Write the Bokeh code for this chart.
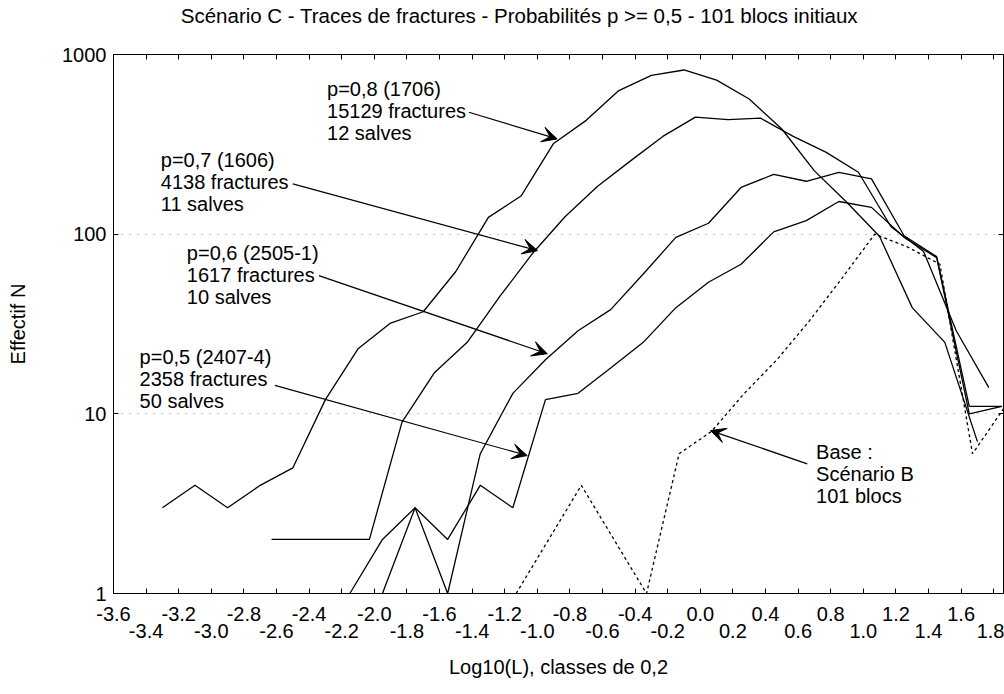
from bokeh.plotting import figure
from bokeh.models import (FixedTicker, LinearAxis, LogAxis, NumeralTickFormatter,
                          Arrow, VeeHead, ColumnDataSource, Range1d)
from bokeh.core.properties import value
from bokeh.embed import file_html
from bokeh.resources import INLINE

# ---------------- data ----------------
title_text = "Scénario C - Traces de fractures - Probabilités p >= 0,5 - 101 blocs initiaux"
title_x = -1.11          # x (data) where the title is centred
x_label = "Log10(L), classes de 0,2"
y_label = "Effectif N"

x_ticks_row1 = [-3.6, -3.2, -2.8, -2.4, -2.0, -1.6, -1.2, -0.8, -0.4, 0.0, 0.4, 0.8, 1.2, 1.6]
x_ticks_row2 = [-3.4, -3.0, -2.6, -2.2, -1.8, -1.4, -1.0, -0.6, -0.2, 0.2, 0.6, 1.0, 1.4, 1.8]
y_ticks = [1, 10, 100, 1000]
y_grid = [10, 100]

# p = 0,8 (1706)
x_p08 = [-3.3, -3.1, -2.9, -2.7, -2.5, -2.3, -2.1, -1.9, -1.7, -1.5, -1.3, -1.1, -0.9,
         -0.7, -0.5, -0.3, -0.1, 0.1, 0.3, 0.5, 0.7, 0.9, 1.1, 1.3, 1.5, 1.7]
n_p08 = [3, 4, 3, 4, 5, 12, 23, 32, 37, 62, 124, 163, 320,
         430, 630, 765, 820, 720, 565, 385, 225, 150, 97, 39, 25, 7]

# p = 0,7 (1606)
x_p07 = [-2.63, -2.43, -2.23, -2.03, -1.83, -1.63, -1.43, -1.23, -1.03, -0.83, -0.63, -0.43,
         -0.23, -0.03, 0.17, 0.37, 0.57, 0.77, 0.97, 1.17, 1.37, 1.57, 1.77]
n_p07 = [2, 2, 2, 2, 9, 17, 25, 45, 78, 125, 185, 255,
         350, 448, 434, 442, 350, 286, 221, 110, 80, 29, 14]

# p = 0,6 (2505-1)
x_p06 = [-2.15, -1.95, -1.75, -1.55, -1.35, -1.15, -0.95, -0.75, -0.55, -0.35, -0.15,
         0.05, 0.25, 0.45, 0.65, 0.85, 1.05, 1.25, 1.45, 1.65, 1.85]
n_p06 = [1, 2, 3, 1, 6, 13, 20, 29, 38, 60, 96,
         115, 182, 215, 197, 221, 203, 98, 75, 11, 11]

# p = 0,5 (2407-4)
x_p05 = [-1.95, -1.75, -1.55, -1.35, -1.15, -0.95, -0.75, -0.55, -0.35, -0.15,
         0.05, 0.25, 0.45, 0.65, 0.85, 1.05, 1.25, 1.45, 1.65, 1.85]
n_p05 = [1, 3, 2, 4, 3, 12, 13, 18, 25, 39,
         54, 68, 103, 119, 152, 141, 96, 74, 10, 11]

# Base : Scénario B (101 blocs)
x_base = [-1.13, -0.93, -0.73, -0.53, -0.33, -0.13, 0.07, 0.27, 0.47, 0.67, 0.87,
          1.07, 1.27, 1.47, 1.67, 1.87]
n_base = [1, 2, 4, 2, 1, 6, 8, 13, 20, 33, 57,
          100, 85, 68, 6, 11]

# annotations (text blocks anchored at their middle line, left edge)
ann_text = ["p=0,8 (1706)\n15129 fractures\n12 salves",
            "p=0,7 (1606)\n4138 fractures\n11 salves",
            "p=0,6 (2505-1)\n1617 fractures\n10 salves",
            "p=0,5 (2407-4)\n2358 fractures\n50 salves",
            "Base :\nScénario B\n101 blocs"]
ann_x = [-2.29, -3.31, -3.15, -3.44, 0.71]
ann_y = [487, 194, 58.9, 15.7, 4.64]

arr_x0 = [-1.42, -2.50, -2.34, -2.61, 0.656]
arr_y0 = [477, 190.5, 58.8, 14.4, 5.27]
arr_x1 = [-0.878, -0.999, -0.939, -1.062, 0.063]
arr_y1 = [339, 81, 21.6, 5.86, 8.07]

# ---------------- figure ----------------
FONT = "Liberation Sans"
FS = "20px"

p = figure(width=1004, height=694, output_backend="svg", toolbar_location=None,
           x_range=Range1d(-3.6, 1.86), y_range=Range1d(1, 1000), y_axis_type="log",
           min_border_left=113, min_border_top=54, min_border_right=1, min_border_bottom=101)
p.background_fill_color = "white"
p.border_fill_color = "white"
p.outline_line_color = "black"
p.outline_line_width = 1

# bottom axis (row 1 labels, all ticks)
xa = p.xaxis[0]
xa.ticker = FixedTicker(ticks=x_ticks_row1, minor_ticks=x_ticks_row2)
xa.formatter = NumeralTickFormatter(format="0.0")
xa.major_tick_in = 5
xa.major_tick_out = 0
xa.minor_tick_in = 5
xa.minor_tick_out = 0
xa.major_label_standoff = 13
xa.major_label_text_font = FONT
xa.major_label_text_font_size = FS
xa.major_label_text_color = "black"
xa.axis_line_color = "black"

# second (staggered) row of labels + axis title
xa2 = LinearAxis(ticker=FixedTicker(ticks=x_ticks_row2),
                 formatter=NumeralTickFormatter(format="0.0"),
                 axis_line_color=None, major_tick_line_color=None, minor_tick_line_color=None,
                 major_tick_in=0, major_tick_out=0, minor_tick_in=0, minor_tick_out=0,
                 major_label_standoff=0, major_label_text_font=FONT,
                 major_label_text_font_size=FS, major_label_text_color="black",
                 axis_label=x_label, axis_label_standoff=15, axis_label_text_font=FONT,
                 axis_label_text_font_size=FS, axis_label_text_font_style="normal",
                 axis_label_text_color="black")
p.add_layout(xa2, "below")

# top axis: inward ticks only
xt = LinearAxis(ticker=FixedTicker(ticks=[], minor_ticks=x_ticks_row1 + x_ticks_row2),
                major_tick_in=0, major_tick_out=0,
                minor_tick_in=5, minor_tick_out=0, minor_tick_line_color="black",
                major_label_standoff=0, axis_line_color="black")
p.add_layout(xt, "above")

# chart title, drawn as the single label of an outer top axis (lets it sit at the very top)
xtitle = LinearAxis(ticker=FixedTicker(ticks=[title_x]),
                    major_label_overrides={title_x: title_text},
                    axis_line_color=None, major_tick_line_color=None, minor_tick_line_color=None,
                    major_tick_in=0, major_tick_out=0, minor_tick_in=0, minor_tick_out=0,
                    major_label_standoff=28, major_label_text_font=FONT,
                    major_label_text_font_size="20.5px", major_label_text_color="black")
p.add_layout(xtitle, "above")

# left axis
ya = p.yaxis[0]
ya.ticker = FixedTicker(ticks=y_ticks)
ya.formatter = NumeralTickFormatter(format="0")
ya.major_tick_in = 5
ya.major_tick_out = 0
ya.minor_tick_line_color = None
ya.major_label_standoff = 7
ya.major_label_text_font = FONT
ya.major_label_text_font_size = FS
ya.major_label_text_color = "black"
ya.axis_label = y_label
ya.axis_label_standoff = 30
ya.axis_label_text_font = FONT
ya.axis_label_text_font_size = FS
ya.axis_label_text_font_style = "normal"
ya.axis_label_text_color = "black"
ya.axis_line_color = "black"

# right axis: inward ticks only
yr = LogAxis(ticker=FixedTicker(ticks=[], minor_ticks=y_grid), major_tick_in=0,
             major_tick_out=0, minor_tick_in=5, minor_tick_out=0,
             major_label_standoff=0, axis_line_color="black")
p.add_layout(yr, "right")

p.xgrid.visible = False
p.ygrid.ticker = FixedTicker(ticks=y_grid)
p.ygrid.grid_line_color = "#8a8a8a"
p.ygrid.grid_line_dash = "1 7"
p.ygrid.grid_line_width = 1

# curves
LW = 1.3
for xs, ns in [(x_p08, n_p08), (x_p07, n_p07), (x_p06, n_p06), (x_p05, n_p05)]:
    p.line(xs, ns, line_color="black", line_width=LW)
p.line(x_base, n_base, line_color="black", line_width=LW, line_dash="3 3")

# annotation texts
ann_src = ColumnDataSource(dict(x=ann_x, y=ann_y, text=ann_text))
p.text(x="x", y="y", text="text", source=ann_src, text_font=value(FONT),
       text_font_size=value(FS), text_color="black", text_align="left",
       text_baseline="middle", text_line_height=1.0)

arr_src = ColumnDataSource(dict(x0=arr_x0, y0=arr_y0, x1=arr_x1, y1=arr_y1))
p.add_layout(Arrow(end=VeeHead(size=15, fill_color="black", line_color="black", line_width=1),
                   x_start="x0", y_start="y0", x_end="x1", y_end="y1", source=arr_src,
                   line_color="black", line_width=1.2))

open("out.html", "w", encoding="utf-8").write(file_html(p, INLINE))
